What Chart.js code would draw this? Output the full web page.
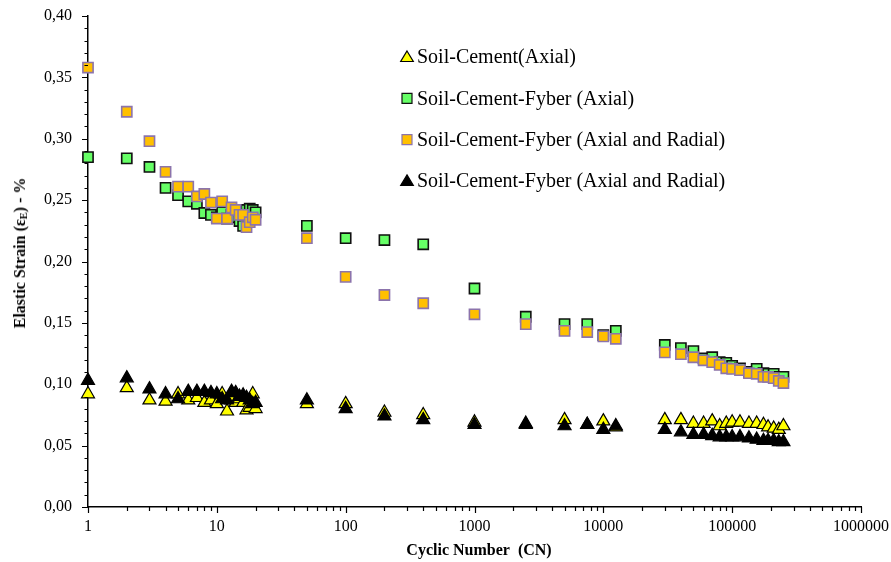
<!DOCTYPE html>
<html>
<head>
<meta charset="utf-8">
<script src="https://cdn.jsdelivr.net/npm/chart.js@4.4.1/dist/chart.umd.min.js"></script>
<style>
  html, body { margin: 0; padding: 0; background: #fff; }
  #wrap { position: relative; width: 891px; height: 562px; overflow: hidden; }
  canvas { position: absolute; left: 0; top: 0; }
  .ttl { position: absolute; font-family: "Liberation Serif", serif; font-weight: bold; color: #000; white-space: nowrap; }
  #ytitle { left: 20px; top: 253px; font-size: 16px; transform: translate(-50%, -50%) rotate(-90deg); }
  #xtitle { left: 479px; top: 550px; font-size: 16px; transform: translate(-50%, -50%); }
  sub { font-size: 10.5px; vertical-align: -2px; }
</style>
</head>
<body>
<div id="wrap">
  <canvas id="c" width="891" height="562"></canvas>
  <div class="ttl" id="ytitle">Elastic Strain (ε<sub>E</sub>) - %</div>
  <div class="ttl" id="xtitle">Cyclic Number&nbsp; (CN)</div>
</div>
<script>
// ---------------- DATA ----------------
const cycles = [1,2,3,4,5,6,7,8,9,10,11,12,13,14,15,16,17,18,19,20,
  50,100,200,400,1000,2500,5000,7500,10000,12500,
  30000,40000,50000,60000,70000,80000,90000,100000,115000,135000,155000,175000,190000,210000,230000,250000];

const seriesLabels = [
  "Soil-Cement(Axial)",
  "Soil-Cement-Fyber (Axial)",
  "Soil-Cement-Fyber (Axial and Radial)",
  "Soil-Cement-Fyber (Axial and Radial)"
];

const soilCementAxial = [0.092,0.097,0.087,0.086,0.092,0.087,0.089,0.085,0.087,0.084,0.092,0.078,0.087,0.085,0.088,0.085,0.079,0.081,0.092,0.080,
  0.084,0.084,0.077,0.075,0.069,0.067,0.071,0.067,0.070,0.065,
  0.071,0.071,0.068,0.068,0.070,0.066,0.068,0.069,0.069,0.068,0.068,0.067,0.065,0.064,0.063,0.066];

const fyberAxial = [0.285,0.284,0.277,0.260,0.254,0.249,0.247,0.2395,0.238,0.236,0.240,0.235,0.238,0.236,0.233,0.229,0.242,0.243,0.242,0.240,
  0.229,0.219,0.2175,0.214,0.178,0.155,0.149,0.149,0.140,0.1435,
  0.132,0.1295,0.127,0.121,0.122,0.118,0.1175,0.115,0.113,0.110,0.1125,0.109,0.1085,0.1085,0.106,0.106];

const fyberAxialRadialSq = [0.358,0.322,0.298,0.273,0.261,0.261,0.253,0.255,0.248,0.235,0.249,0.235,0.244,0.242,0.238,0.238,0.228,0.232,0.236,0.234,
  0.219,0.1875,0.1727,0.166,0.157,0.149,0.1435,0.1425,0.139,0.137,
  0.126,0.1245,0.122,0.1195,0.118,0.1157,0.113,0.1125,0.1115,0.109,0.1085,0.106,0.106,0.105,0.1027,0.101];

const fyberAxialRadialTri = [0.103,0.105,0.096,0.092,0.088,0.094,0.094,0.094,0.093,0.092,0.088,0.087,0.094,0.093,0.090,0.091,0.089,0.087,0.084,0.085,
  0.087,0.080,0.074,0.071,0.067,0.068,0.066,0.067,0.063,0.066,
  0.063,0.061,0.059,0.059,0.058,0.057,0.057,0.057,0.057,0.056,0.055,0.054,0.054,0.054,0.053,0.053];

const xTickValues = [1,10,100,1000,10000,100000,1000000];
const yTickValues = [0,0.05,0.10,0.15,0.20,0.25,0.30,0.35,0.40];

// ---------------- CHART ----------------
const toPts = arr => cycles.map((c, i) => ({ x: c, y: arr[i] }));

const datasets = [
  { label: seriesLabels[0], data: toPts(soilCementAxial), pointStyle: 'triangle', pointRadius: 7.5,
    backgroundColor: '#ffff00', borderColor: '#000000', borderWidth: 1.2, order: 3, clip: false },
  { label: seriesLabels[1], data: toPts(fyberAxial), pointStyle: 'rect', pointRadius: 7.2,
    backgroundColor: '#66ff66', borderColor: '#111111', borderWidth: 1.6, order: 4, clip: false },
  { label: seriesLabels[2], data: toPts(fyberAxialRadialSq), pointStyle: 'rect', pointRadius: 7.2,
    backgroundColor: '#ffc000', borderColor: '#8c74ac', borderWidth: 1.6, order: 2, clip: false },
  { label: seriesLabels[3], data: toPts(fyberAxialRadialTri), pointStyle: 'triangle', pointRadius: 7.5,
    backgroundColor: '#000000', borderColor: '#000000', borderWidth: 1.2, order: 1, clip: false }
];

const tickPlugin = {
  id: 'minorTicks',
  afterDraw(chart) {
    const ctx = chart.ctx, xs = chart.scales.x, ys = chart.scales.y;
    const ca = chart.chartArea;
    ctx.save();
    ctx.strokeStyle = '#000';
    ctx.lineWidth = 1.2;
    ctx.beginPath();
    for (let k = 0; k <= 40; k++) {
      const v = k / 100;
      const py = Math.round(ys.getPixelForValue(v)) + 0.5;
      const len = (k % 5 === 0) ? 6 : 3.5;
      ctx.moveTo(ca.left - len, py);
      ctx.lineTo(ca.left, py);
    }
    for (let d = 0; d <= 6; d++) {
      for (let m = 1; m <= 9; m++) {
        const v = m * Math.pow(10, d);
        if (v > 1000000) break;
        const px = Math.round(xs.getPixelForValue(v)) + 0.5;
        const len = (m === 1) ? 6 : 4;
        ctx.moveTo(px, ca.bottom);
        ctx.lineTo(px, ca.bottom + len);
      }
    }
    ctx.stroke();
    ctx.restore();
  }
};

const legendPlugin = {
  id: 'insideLegend',
  afterDraw(chart) {
    const ctx = chart.ctx;
    const mx = 407, tx = 417, y0 = 57, dy = 41.3;
    chart.data.datasets.forEach((ds, i) => {
      const y = y0 + i * dy;
      ctx.save();
      ctx.fillStyle = ds.backgroundColor;
      ctx.strokeStyle = ds.borderColor;
      ctx.lineWidth = 1.2;
      ctx.beginPath();
      if (ds.pointStyle === 'triangle') {
        ctx.moveTo(mx, y - 6);
        ctx.lineTo(mx + 6.3, y + 4.5);
        ctx.lineTo(mx - 6.3, y + 4.5);
        ctx.closePath();
      } else {
        ctx.rect(mx - 5, y - 5, 10, 10);
      }
      ctx.fill();
      ctx.stroke();
      ctx.fillStyle = '#000';
      ctx.font = '20px "Liberation Serif"';
      ctx.textBaseline = 'middle';
      ctx.textAlign = 'left';
      ctx.fillText(ds.label, tx, y + 1);
      ctx.restore();
    });
  }
};

new Chart(document.getElementById('c'), {
  type: 'scatter',
  data: { datasets },
  options: {
    responsive: false,
    animation: false,
    layout: { padding: { left: 0, top: 16, right: 30, bottom: 0 } },
    plugins: { legend: { display: false }, tooltip: { enabled: false } },
    scales: {
      x: {
        type: 'logarithmic', min: 1, max: 1000000,
        grid: { display: false, drawTicks: false },
        border: { display: true, color: '#000', width: 1.5 },
        afterBuildTicks: s => { s.ticks = xTickValues.map(v => ({ value: v })); },
        afterFit: s => { s.height = 55; s.paddingLeft = 0; s.paddingRight = 0; },
        ticks: {
          color: '#000', padding: 10, maxRotation: 0, autoSkip: false,
          font: { family: '"Liberation Serif"', size: 16 },
          callback: v => String(v)
        }
      },
      y: {
        type: 'linear', min: 0, max: 0.4,
        grid: { display: false, drawTicks: false },
        border: { display: true, color: '#000', width: 1.5 },
        afterBuildTicks: s => { s.ticks = yTickValues.map(v => ({ value: v })); },
        afterFit: s => { s.width = 88; s.paddingTop = 0; s.paddingBottom = 0; },
        ticks: {
          color: '#000', padding: 16,
          font: { family: '"Liberation Serif"', size: 16 },
          callback: v => Number(v).toFixed(2).replace('.', ',')
        }
      }
    }
  },
  plugins: [tickPlugin, legendPlugin]
});
</script>
</body>
</html>
